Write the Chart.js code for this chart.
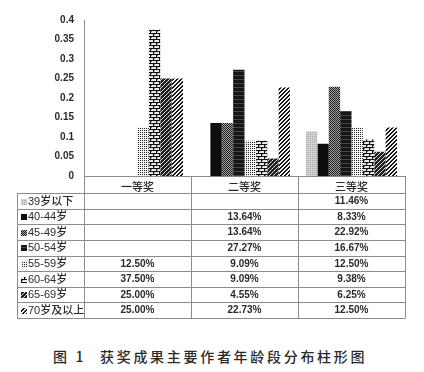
<!DOCTYPE html>
<html>
<head>
<meta charset="utf-8">
<script src="https://cdn.jsdelivr.net/npm/chart.js@4"></script>
<style>
  body { margin: 0; background: #fff; }
  #wrap { position: relative; width: 424px; height: 372px; }
  .caption { position: absolute; top: 346px; font-family: "Noto Sans CJK SC", sans-serif; font-size: 14px; font-weight: 500; color: #2a2a2a; letter-spacing: 2.7px; white-space: nowrap; }
</style>
</head>
<body>
<div id="wrap">
  <canvas id="chart" width="424" height="330"></canvas>
  <span class="caption" style="left:53px">图 1</span>
  <span class="caption" style="left:100px">获奖成果主要作者年龄段分布柱形图</span>
</div>
<script>
// data (shares of winners in each prize level)
const prizes = ["一等奖", "二等奖", "三等奖"];
const ageGroups = ["39岁以下", "40-44岁", "45-49岁", "50-54岁", "55-59岁", "60-64岁", "65-69岁", "70岁及以上"];
const age39 = [null, null, 0.1146];
const age40 = [null, 0.1364, 0.0833];
const age45 = [null, 0.1364, 0.2292];
const age50 = [null, 0.2727, 0.1667];
const age55 = [0.125, 0.0909, 0.125];
const age60 = [0.375, 0.0909, 0.0938];
const age65 = [0.25, 0.0455, 0.0625];
const age70 = [0.25, 0.2273, 0.125];
const yTicks = [0, 0.05, 0.1, 0.15, 0.2, 0.25, 0.3, 0.35, 0.4];

const seriesValues = [age39, age40, age45, age50, age55, age60, age65, age70];

const ctx = document.getElementById("chart").getContext("2d");

function makePattern(w, h, bg, dots) {
  const c = document.createElement("canvas");
  c.width = w;
  c.height = h;
  const g = c.getContext("2d");
  g.fillStyle = bg;
  g.fillRect(0, 0, w, h);
  dots.forEach((d) => {
    g.fillStyle = d[2];
    g.fillRect(d[0], d[1], 1, 1);
  });
  return ctx.createPattern(c, "repeat");
}

// fill textures, roughly like the scanned Excel patterns
const fills = [
  makePattern(2, 2, "#d2d2d2", [[0, 0, "#a9a9a9"]]),
  "#0d0d0d",
  makePattern(2, 2, "#a8a8a8", [[0, 0, "#1a1a1a"], [1, 1, "#1a1a1a"]]),
  makePattern(1, 4, "#161616", [[0, 3, "#444"]]),
  makePattern(2, 2, "#f4f4f4", [[0, 0, "#222"]]),
  makePattern(6, 6, "#e8e8e8", [
    [0, 0, "#111"], [1, 0, "#111"], [2, 0, "#111"], [3, 0, "#111"], [4, 0, "#111"], [5, 0, "#111"],
    [0, 3, "#111"], [1, 3, "#111"], [2, 3, "#111"], [3, 3, "#111"], [4, 3, "#111"], [5, 3, "#111"],
    [0, 1, "#111"], [0, 2, "#111"], [3, 4, "#111"], [3, 5, "#111"], [1, 1, "#777"], [4, 4, "#777"]
  ]),
  makePattern(4, 4, "#1e1e1e", [[0, 0, "#eee"], [2, 2, "#eee"], [1, 3, "#bbb"], [3, 1, "#bbb"]]),
  makePattern(4, 4, "#f2f2f2", [
    [0, 3, "#151515"], [1, 3, "#151515"], [1, 2, "#151515"], [2, 2, "#151515"],
    [2, 1, "#151515"], [3, 1, "#151515"], [3, 0, "#151515"], [0, 0, "#151515"]
  ]),
];

const headerH = 17;
const rowH = 15.6;
const tableLeft = 17;

const tablePlugin = {
  id: "dataTable",
  afterDraw(chart) {
    const c = chart.ctx;
    const area = chart.chartArea;
    const x = chart.scales.x;
    const half = (area.right - area.left) / prizes.length / 2;
    const top = area.bottom;
    const rowsTop = top + headerH;
    const bottom = rowsTop + rowH * ageGroups.length;

    c.save();
    c.strokeStyle = "#8c8c8c";
    c.lineWidth = 1;
    c.beginPath();
    for (let i = 0; i <= ageGroups.length; i++) {
      const y = Math.round(rowsTop + rowH * i) + 0.5;
      c.moveTo(tableLeft, y);
      c.lineTo(area.right, y);
    }
    c.moveTo(tableLeft + 0.5, rowsTop);
    c.lineTo(tableLeft + 0.5, bottom);
    const bounds = [x.getPixelForValue(0) - half];
    prizes.forEach((p, i) => bounds.push(x.getPixelForValue(i) + half));
    bounds.forEach((bx) => {
      const xx = Math.round(bx) + 0.5;
      c.moveTo(xx, top);
      c.lineTo(xx, Math.round(bottom) + 0.5);
    });
    c.stroke();

    c.textBaseline = "middle";
    ageGroups.forEach((name, r) => {
      const cy = rowsTop + rowH * r + rowH / 2 + 0.5;
      c.fillStyle = fills[r];
      c.fillRect(tableLeft + 4, Math.round(cy - 3), 6, 6);
      c.fillStyle = "#2a2a2a";
      c.textAlign = "left";
      c.font = "500 11px 'Liberation Sans', 'Noto Sans CJK SC', sans-serif";
      c.fillText(name, tableLeft + 11, cy);
      c.textAlign = "center";
      c.font = "bold 10px 'Liberation Sans', sans-serif";
      seriesValues[r].forEach((v, i) => {
        if (v === null) return;
        c.fillText((v * 100).toFixed(2) + "%", x.getPixelForValue(i), cy);
      });
    });
    c.restore();
  },
};

new Chart(ctx, {
  type: "bar",
  data: {
    labels: prizes,
    datasets: ageGroups.map((name, i) => ({
      label: name,
      data: seriesValues[i],
      backgroundColor: fills[i],
      borderWidth: 0,
      barPercentage: 1,
      categoryPercentage: 0.85,
    })),
  },
  options: {
    responsive: false,
    animation: false,
    layout: { padding: { top: 20, right: 19, bottom: 12, left: 0 } },
    plugins: {
      legend: { display: false },
      tooltip: { enabled: false },
    },
    scales: {
      x: {
        grid: { display: false, drawTicks: false },
        border: { display: true, color: "#8c8c8c" },
        ticks: {
          padding: 4,
          color: "#2a2a2a",
          font: { family: "'Noto Sans CJK SC', sans-serif", size: 11, weight: "500" },
        },
        afterFit: (s) => { s.height = headerH + rowH * ageGroups.length; },
      },
      y: {
        min: 0,
        max: 0.4,
        grid: { display: false, drawTicks: false },
        border: { display: true, color: "#8c8c8c" },
        afterBuildTicks: (s) => { s.ticks = yTicks.map((v) => ({ value: v })); },
        afterFit: (s) => { s.width = 84; },
        ticks: {
          padding: 10,
          color: "#2a2a2a",
          font: { family: "'Liberation Sans', sans-serif", size: 10, weight: "bold" },
          callback: (v) => String(v),
        },
      },
    },
  },
  plugins: [tablePlugin],
});
</script>
</body>
</html>
